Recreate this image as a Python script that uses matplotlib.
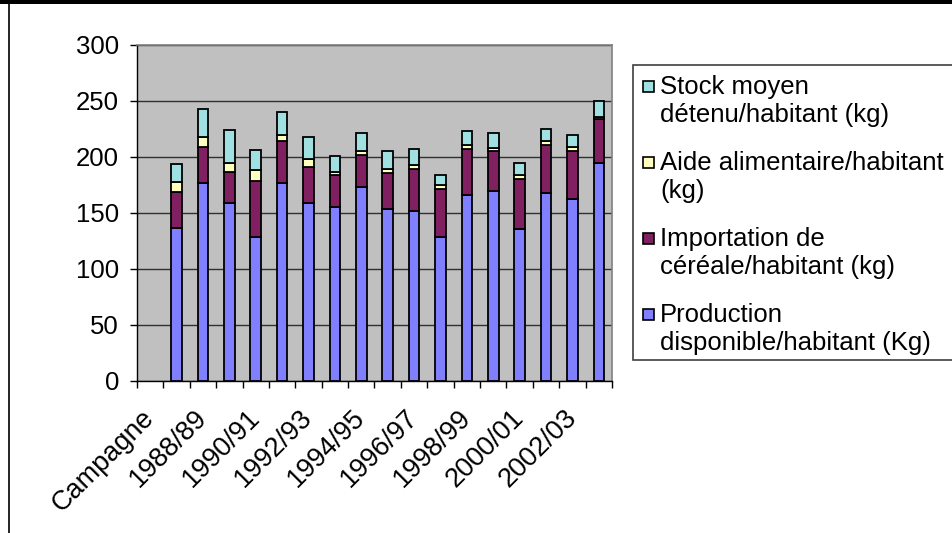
import numpy as np
import matplotlib
matplotlib.use("Agg")
import matplotlib.pyplot as plt
from matplotlib.patches import Rectangle
from matplotlib.transforms import ScaledTranslation

plt.rcParams['font.family'] = ['Liberation Sans', 'DejaVu Sans']

# Données par campagne (kg / habitant)
campagnes = ["1987/88", "1988/89", "1989/90", "1990/91", "1991/92", "1992/93",
             "1993/94", "1994/95", "1995/96", "1996/97", "1997/98", "1998/99",
             "1999/00", "2000/01", "2001/02", "2002/03", "2003/04"]
production = [137, 177, 159, 129, 177, 159, 155, 173, 154, 151.5, 128.6, 166,
              169.4, 135.4, 167.6, 162.5, 194.6]
importation = [32, 32, 28, 50, 37, 32, 29, 28.6, 32, 37.5, 42.8, 41,
               35.6, 45.3, 42.8, 42.9, 39]
aide = [9, 9, 8, 9, 6, 7.5, 3, 4, 3.6, 4, 4, 3.6, 2.7, 3.5, 3.9, 3.8, 1.8]
stock = [16, 25, 29, 18, 20, 19, 14, 16, 16, 14, 8.6, 12.8, 13.7, 10.7,
         10.7, 10.4, 15]

categories = ["Campagne"] + campagnes

series = [
    ("Production\ndisponible/habitant (Kg)", production, "#8080FF"),
    ("Importation de\ncéréale/habitant (kg)", importation, "#802060"),
    ("Aide alimentaire/habitant\n(kg)", aide, "#FFFFC0"),
    ("Stock moyen\ndétenu/habitant (kg)", stock, "#A0E0E0"),
]

W, H = 952, 533
fig = plt.figure(figsize=(W / 100, H / 100), dpi=100)
fig.patch.set_facecolor("white")

# zone de tracé (en pixels)
left, right, top, bottom = 137, 612, 45, 381
ax = fig.add_axes([left / W, 1 - bottom / H, (right - left) / W, (bottom - top) / H])
ax.set_facecolor("#C0C0C0")

x = np.arange(1, len(campagnes) + 1)
base = np.zeros(len(campagnes))
for label, vals, color in series:
    ax.bar(x, vals, width=0.4, bottom=base, color=color, edgecolor="black",
           linewidth=1.3, zorder=3)
    base = base + np.array(vals)

ax.set_xlim(-0.5, len(categories) - 0.5)
ax.set_ylim(0, 300)
ax.set_yticks(np.arange(0, 301, 50))
ax.yaxis.grid(True, color="#303030", linewidth=1.0, zorder=1)
ax.set_axisbelow(True)

# graduations aux limites des catégories, étiquettes une sur deux
ax.set_xticks(np.arange(-0.5, len(categories), 1.0))
ax.tick_params(axis="x", which="major", direction="out", length=5, width=1,
               labelbottom=False)
ax.set_xticks(np.arange(0, len(categories), 2), minor=True)
ax.set_xticklabels(categories[::2], minor=True, rotation=45, ha="right",
                   va="top", rotation_mode="anchor", fontsize=19.5)
ax.tick_params(axis="x", which="minor", length=0, pad=17)
offset = ScaledTranslation(-9 / 100, 0, fig.dpi_scale_trans)
for lab in ax.get_xticklabels(minor=True):
    lab.set_transform(lab.get_transform() + offset)

ax.tick_params(axis="y", direction="out", length=5, width=1, pad=8,
               labelsize=18.5)

for s in ["top", "right"]:
    ax.spines[s].set_color("#808080")
    ax.spines[s].set_linewidth(1.2)
for s in ["left", "bottom"]:
    ax.spines[s].set_color("black")
    ax.spines[s].set_linewidth(1.0)

# légende
leg_left, leg_top, leg_bottom = 633, 65, 360
fig.patches.append(Rectangle((leg_left / W, 1 - leg_bottom / H),
                             (W + 10 - leg_left) / W, (leg_bottom - leg_top) / H,
                             transform=fig.transFigure, facecolor="white",
                             edgecolor="#404040", linewidth=1.2))
for i, (label, vals, color) in enumerate(series[::-1]):
    base_y = 94 + i * 76
    fig.patches.append(Rectangle((643 / W, 1 - (base_y - 2) / H), 11 / W, 11 / H,
                                 transform=fig.transFigure, facecolor=color,
                                 edgecolor="black", linewidth=1.2))
    for j, line in enumerate(label.split("\n")):
        fig.text(660 / W, 1 - (base_y + j * 28) / H, line, fontsize=18.5,
                 ha="left", va="baseline")

# cadre du document
fig.patches.append(Rectangle((0, 1 - 4 / H), 1, 4 / H, transform=fig.transFigure,
                             facecolor="black", edgecolor="none"))
fig.lines.append(plt.Line2D([8.5 / W, 8.5 / W], [0, 1], transform=fig.transFigure,
                            color="black", linewidth=1.2))

fig.savefig("out.png", dpi=100)
